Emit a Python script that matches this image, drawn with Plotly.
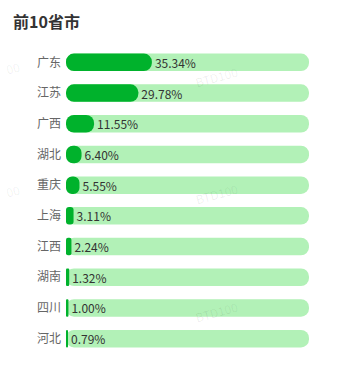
import plotly.graph_objects as go

provinces = ["广东", "江苏", "广西", "湖北", "重庆", "上海", "江西", "湖南", "四川", "河北"]
shares = [35.34, 29.78, 11.55, 6.40, 5.55, 3.11, 2.24, 1.32, 1.00, 0.79]
full = [100] * len(provinces)
labels = [f"{v:.2f}%" for v in shares]

DARK = "#00b22c"
LIGHT = "#b2f1b7"
W = 0.57
R = 9
zero_base = [0] * len(provinces)

fig = go.Figure()
fig.add_bar(y=provinces, x=full, base=zero_base, orientation="h",
            marker=dict(color=LIGHT, cornerradius=R, line_width=0), width=W, hoverinfo="skip")
fig.add_bar(y=provinces, x=shares, base=zero_base, orientation="h",
            marker=dict(color=DARK, cornerradius=R, line_width=0), width=W,
            text=labels, textposition="outside", cliponaxis=False,
            textfont=dict(size=12, color="#333333"), hoverinfo="skip")

wm = dict(showarrow=False, xref="paper", yref="paper", textangle=-15,
          font=dict(size=12, color="rgba(0,0,0,0.07)"))
for x, y in [(0.621, 0.956), (0.621, 0.524), (0.621, 0.085)]:
    fig.add_annotation(x=x, y=y, text="BTD100", **wm)
for y in [0.975, 0.534]:
    fig.add_annotation(x=-0.265, y=y, text="00", xanchor="left", **wm)

fig.update_layout(
    width=340, height=372, barmode="overlay", showlegend=False,
    margin=dict(l=66, r=31, t=47, b=18),
    paper_bgcolor="white", plot_bgcolor="white",
    font=dict(family="Noto Sans CJK SC, sans-serif"),
    title=dict(text="<b>前10省市</b>", x=13/340, xanchor="left", y=1 - 22/372, yanchor="middle",
               font=dict(size=16, color="#333333")),
    xaxis=dict(range=[0, 100], visible=False, fixedrange=True),
    yaxis=dict(autorange="reversed", showgrid=False, zeroline=False, showline=False, ticks="",
               ticklabelstandoff=4, tickfont=dict(size=12, color="#666666")),
)
fig.write_html("out.html")
